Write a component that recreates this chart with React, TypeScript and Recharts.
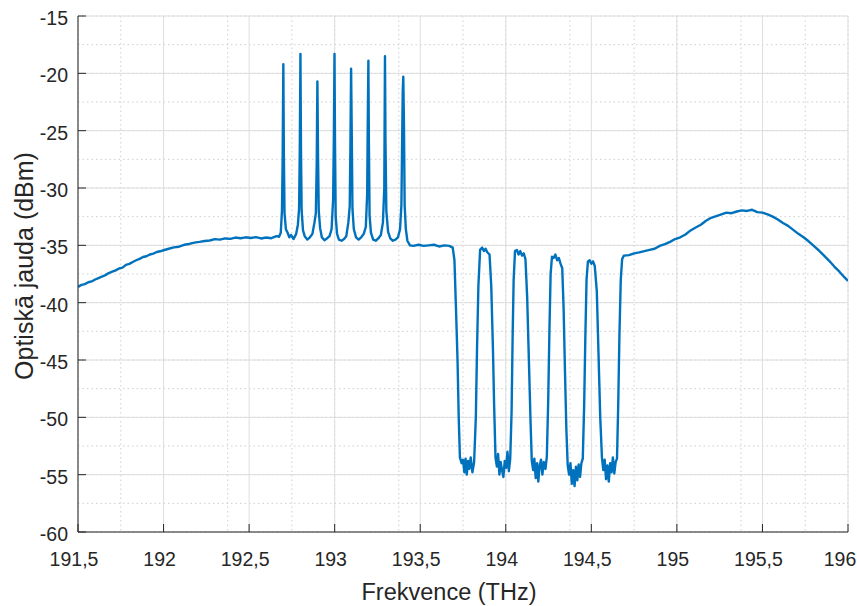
import React from 'react';
import { LineChart, Line, XAxis, YAxis, CartesianGrid } from 'recharts';

// Frequency (THz), optical power (dBm)
const leftSlope: [number, number][] = [
  [191.5, -38.62], [191.52, -38.45], [191.54, -38.38], [191.56, -38.22], [191.58, -38.15],
  [191.6, -37.98], [191.62, -37.86], [191.64, -37.72], [191.66, -37.6], [191.68, -37.42],
  [191.7, -37.3], [191.72, -37.18], [191.74, -37.02], [191.76, -36.95], [191.78, -36.7],
  [191.8, -36.62], [191.82, -36.45], [191.84, -36.3], [191.86, -36.18], [191.88, -36.02],
  [191.9, -35.95], [191.92, -35.8], [191.94, -35.72], [191.96, -35.58], [191.98, -35.52],
  [192.0, -35.43], [192.03, -35.3], [192.06, -35.18], [192.09, -35.12], [192.12, -34.95],
  [192.15, -34.88], [192.18, -34.76], [192.21, -34.7], [192.24, -34.62], [192.27, -34.58],
  [192.3, -34.46], [192.33, -34.5], [192.36, -34.4], [192.39, -34.44], [192.42, -34.32],
  [192.45, -34.38], [192.48, -34.3], [192.51, -34.36], [192.54, -34.28], [192.57, -34.4],
  [192.6, -34.32], [192.63, -34.38], [192.66, -34.2],
];

const channelComb: [number, number][] = [
  [192.675, -34.25], [192.685, -33.9], [192.692, -32.0], [192.696, -27.5], [192.7, -19.2],
  [192.703, -27.0], [192.707, -32.2], [192.715, -33.6], [192.725, -33.9], [192.735, -34.3],
  [192.745, -34.1], [192.76, -34.45], [192.775, -34.0], [192.785, -33.2], [192.792, -31.8],
  [192.796, -27.0], [192.8, -18.3], [192.803, -26.5], [192.807, -32.0], [192.815, -33.7],
  [192.825, -34.2], [192.84, -34.5], [192.855, -34.3], [192.87, -34.0], [192.882, -33.0],
  [192.89, -32.2], [192.895, -28.0], [192.899, -20.7], [192.903, -27.5], [192.907, -32.0],
  [192.915, -33.5], [192.925, -34.3], [192.94, -34.55], [192.955, -34.4], [192.97, -34.2],
  [192.982, -33.6], [192.991, -31.0], [192.995, -26.0], [192.999, -18.3], [193.002, -26.0],
  [193.006, -32.5], [193.014, -34.0], [193.025, -34.5], [193.04, -34.6], [193.055, -34.45],
  [193.068, -34.2], [193.08, -33.0], [193.088, -31.6], [193.092, -26.5], [193.096, -19.6],
  [193.1, -25.5], [193.104, -31.8], [193.112, -33.6], [193.125, -34.3], [193.14, -34.5],
  [193.155, -34.3], [193.17, -34.0], [193.182, -33.4], [193.19, -30.5], [193.193, -25.0],
  [193.197, -18.9], [193.2, -26.0], [193.204, -32.4], [193.212, -33.9], [193.225, -34.5],
  [193.24, -34.6], [193.255, -34.4], [193.27, -34.1], [193.282, -33.0], [193.29, -30.0],
  [193.294, -18.5], [193.297, -26.0], [193.302, -32.0], [193.312, -33.8], [193.325, -34.4],
  [193.34, -34.6], [193.355, -34.5], [193.37, -34.3], [193.382, -33.6], [193.39, -31.5],
  [193.395, -25.0], [193.398, -21.5], [193.401, -20.3], [193.405, -24.5], [193.409, -31.5],
  [193.416, -33.6], [193.425, -34.6], [193.44, -35.0],
];

const notchRegion: [number, number][] = [
  [193.46, -35.05], [193.49, -34.95], [193.52, -35.05], [193.55, -35.0], [193.58, -34.95],
  [193.61, -35.1], [193.64, -35.0], [193.67, -35.05], [193.69, -35.2], [193.7, -36.3],
  [193.71, -41.0], [193.718, -45.0], [193.725, -50.0], [193.732, -53.5], [193.742, -54.0],
  [193.75, -53.7], [193.758, -54.8], [193.765, -53.6], [193.772, -55.0], [193.78, -53.8],
  [193.787, -54.5], [193.795, -53.5], [193.805, -54.8], [193.815, -53.9], [193.825, -50.0],
  [193.832, -44.0], [193.84, -38.5], [193.85, -35.4], [193.862, -35.2], [193.872, -35.5],
  [193.882, -35.3], [193.892, -35.6], [193.905, -35.8], [193.915, -38.5], [193.925, -44.0],
  [193.932, -49.0], [193.94, -53.5], [193.948, -54.3], [193.955, -53.2], [193.963, -55.0],
  [193.97, -53.9], [193.978, -54.6], [193.986, -55.2], [193.994, -53.8], [194.002, -54.4],
  [194.01, -53.0], [194.018, -54.7], [194.026, -53.6], [194.034, -49.5], [194.04, -43.0],
  [194.046, -38.0], [194.054, -35.5], [194.065, -35.4], [194.075, -35.8], [194.085, -35.5],
  [194.095, -35.9], [194.105, -35.7], [194.115, -36.2], [194.125, -39.5], [194.135, -45.0],
  [194.145, -50.5], [194.152, -53.8], [194.16, -54.6], [194.167, -53.6], [194.175, -55.3],
  [194.183, -54.0], [194.19, -55.6], [194.198, -54.2], [194.206, -53.7], [194.214, -55.0],
  [194.222, -53.9], [194.232, -54.5], [194.24, -53.4], [194.248, -48.5], [194.255, -42.5],
  [194.262, -37.5], [194.27, -36.0], [194.28, -36.1], [194.29, -35.8], [194.3, -36.3],
  [194.31, -36.1], [194.32, -36.6], [194.33, -37.0], [194.338, -40.5], [194.346, -46.0],
  [194.354, -51.0], [194.362, -54.2], [194.37, -55.0], [194.378, -54.0], [194.386, -55.8],
  [194.394, -54.6], [194.402, -56.0], [194.41, -54.3], [194.418, -55.5], [194.426, -54.1],
  [194.434, -55.2], [194.442, -54.0], [194.45, -53.6], [194.458, -49.0], [194.465, -43.0],
  [194.472, -38.0], [194.48, -36.4], [194.49, -36.3], [194.5, -36.6], [194.51, -36.4],
  [194.52, -36.8], [194.532, -39.0], [194.542, -44.5], [194.552, -50.0], [194.562, -53.5],
  [194.57, -54.6], [194.578, -53.7], [194.586, -55.4], [194.594, -54.2], [194.602, -55.6],
  [194.61, -54.0], [194.618, -54.8], [194.626, -53.5], [194.634, -54.9], [194.642, -53.9],
  [194.65, -53.6], [194.657, -49.0], [194.664, -43.0], [194.672, -38.0], [194.68, -36.2],
  [194.69, -35.9],
];

const rightHump: [number, number][] = [
  [194.72, -35.85], [194.75, -35.7], [194.78, -35.62], [194.81, -35.5], [194.84, -35.4],
  [194.87, -35.3], [194.9, -35.05], [194.93, -34.9], [194.96, -34.7], [194.99, -34.45],
  [195.02, -34.3], [195.05, -34.05], [195.08, -33.7], [195.11, -33.45], [195.14, -33.2],
  [195.17, -32.85], [195.2, -32.6], [195.23, -32.45], [195.26, -32.3], [195.29, -32.15],
  [195.32, -32.2], [195.35, -32.05], [195.38, -31.95], [195.41, -32.0], [195.44, -31.9],
  [195.47, -32.1], [195.5, -32.15], [195.53, -32.3], [195.56, -32.5], [195.59, -32.75],
  [195.62, -33.05], [195.65, -33.3], [195.68, -33.65], [195.71, -34.0], [195.74, -34.3],
  [195.77, -34.65], [195.8, -35.05], [195.83, -35.45], [195.86, -35.9], [195.89, -36.35],
  [195.92, -36.85], [195.95, -37.3], [195.98, -37.8], [196.0, -38.1],
];

const xTicks = [191.5, 192, 192.5, 193, 193.5, 194, 194.5, 195, 195.5, 196];
const yTicks = [-60, -55, -50, -45, -40, -35, -30, -25, -20, -15];
const xMinorTicks = [
  191.5, 191.625, 191.75, 191.875, 192, 192.125, 192.25, 192.375, 192.5, 192.625, 192.75, 192.875,
  193, 193.125, 193.25, 193.375, 193.5, 193.625, 193.75, 193.875, 194, 194.125, 194.25, 194.375,
  194.5, 194.625, 194.75, 194.875, 195, 195.125, 195.25, 195.375, 195.5, 195.625, 195.75, 195.875, 196,
];
const yMinorTicks = [
  -60, -58.75, -57.5, -56.25, -55, -53.75, -52.5, -51.25, -50, -48.75, -47.5, -46.25, -45,
  -43.75, -42.5, -41.25, -40, -38.75, -37.5, -36.25, -35, -33.75, -32.5, -31.25, -30, -28.75,
  -27.5, -26.25, -25, -23.75, -22.5, -21.25, -20, -18.75, -17.5, -16.25, -15,
];
const xLabel = 'Frekvence (THz)';
const yLabel = 'Optiskā jauda (dBm)';

const data = [...leftSlope, ...channelComb, ...notchRegion, ...rightHump].map(([f, p]) => ({ f, p }));

const FONT = '"Liberation Sans", Arial, Helvetica, sans-serif';
const INK = '#262626';
const TICK_FS = 19.5;
const fmt = (v: number) => String(v).replace('.', ',');

const XTick = (props: any) => {
  const { x, y, payload, index, visibleTicksCount } = props;
  const last = index === (visibleTicksCount ?? xTicks.length) - 1;
  return (
    <text
      x={x + (last ? -8 : -4)}
      y={y}
      dy="0.71em"
      textAnchor="middle"
      fontSize={TICK_FS}
      fontFamily={FONT}
      fill={INK}
    >
      {fmt(payload.value)}
    </text>
  );
};

const YTick = (props: any) => {
  const { x, y, payload } = props;
  return (
    <text
      x={x}
      y={y + 2}
      dy="0.355em"
      textAnchor="end"
      fontSize={TICK_FS}
      fontFamily={FONT}
      fill={INK}
    >
      {fmt(payload.value)}
    </text>
  );
};

export default function App() {
  return (
    <div style={{ position: 'absolute', left: 0, top: 0, width: 857, height: 606, background: '#fff' }}>
      <LineChart width={857} height={606} data={data} margin={{ top: 16, right: 9, left: 0, bottom: 0 }}>
        <XAxis xAxisId="minor" dataKey="f" type="number" domain={[191.5, 196]} ticks={xMinorTicks} hide allowDataOverflow />
        <YAxis yAxisId="minor" type="number" domain={[-60, -15]} ticks={yMinorTicks} hide allowDataOverflow />
        <CartesianGrid xAxisId="minor" yAxisId="minor" stroke="#cfcfcf" strokeDasharray="1.5 3" />
        <CartesianGrid stroke="#dedede" strokeWidth={1} />
        <XAxis
          dataKey="f"
          type="number"
          domain={[191.5, 196]}
          ticks={xTicks}
          interval={0}
          allowDataOverflow
          tickSize={-8}
          tickMargin={28}
          height={74}
          axisLine={{ stroke: INK }}
          tickLine={{ stroke: INK }}
          tick={<XTick />}
        />
        <YAxis
          type="number"
          domain={[-60, -15]}
          ticks={yTicks}
          interval={0}
          allowDataOverflow
          tickSize={-8}
          tickMargin={18}
          width={78}
          axisLine={{ stroke: INK }}
          tickLine={{ stroke: INK }}
          tick={<YTick />}
        />
        <XAxis
          xAxisId="top"
          orientation="top"
          type="number"
          domain={[191.5, 196]}
          ticks={xTicks}
          interval={0}
          allowDataOverflow
          tick={false}
          tickSize={-8}
          height={0}
          axisLine={{ stroke: INK }}
          tickLine={{ stroke: INK }}
        />
        <YAxis
          yAxisId="right"
          orientation="right"
          type="number"
          domain={[-60, -15]}
          ticks={yTicks}
          interval={0}
          allowDataOverflow
          tick={false}
          tickSize={-8}
          width={0}
          axisLine={{ stroke: INK }}
          tickLine={{ stroke: INK }}
        />
        <Line
          type="linear"
          dataKey="p"
          stroke="#0072BD"
          strokeWidth={2.4}
          dot={false}
          isAnimationActive={false}
          strokeLinejoin="round"
        />
      </LineChart>
      <svg
        width={857}
        height={606}
        style={{ position: 'absolute', left: 0, top: 0, pointerEvents: 'none' }}
      >
        <text x={449} y={600} textAnchor="middle" fontSize={23.5} fontFamily={FONT} fill={INK}>
          {xLabel}
        </text>
        <text
          x={-266}
          y={33}
          transform="rotate(-90)"
          textAnchor="middle"
          fontSize={25}
          fontFamily={FONT}
          fill={INK}
        >
          {yLabel}
        </text>
      </svg>
    </div>
  );
}
